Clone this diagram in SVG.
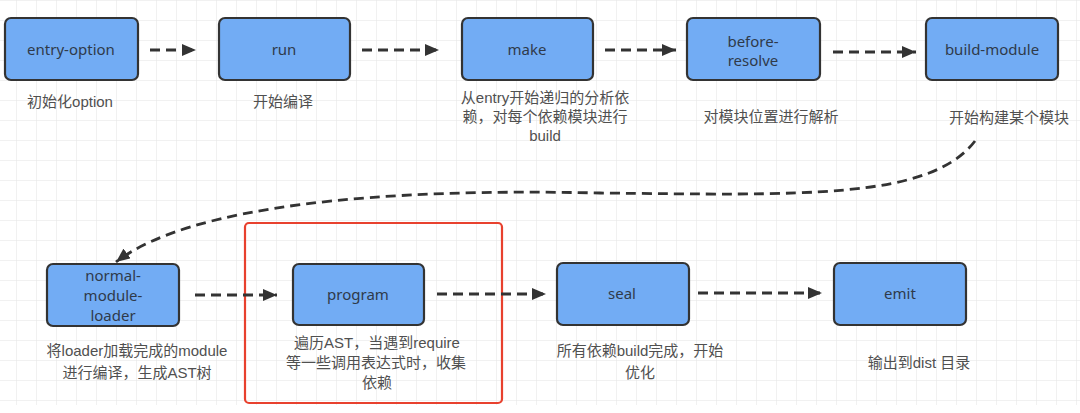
<svg xmlns="http://www.w3.org/2000/svg" width="1080" height="413" viewBox="0 0 1080 413">
<style>
.node rect{fill:#72acf4;stroke:#333;stroke-width:2.2}
.lbl{font-family:"Comic Sans MS","Noto Sans","Liberation Sans",sans-serif;font-size:15px;fill:#2f3a4a;text-anchor:middle;dominant-baseline:central}
.desc{font-family:"Liberation Sans","Noto Sans CJK SC",sans-serif;font-size:15px;fill:#505050;text-anchor:middle;dominant-baseline:central}
.edge{fill:none;stroke:#333;stroke-width:2.8;stroke-dasharray:10 6;marker-end:url(#arr)}
</style>
<defs>
<pattern id="grid" x="16" y="0" width="20" height="20" patternUnits="userSpaceOnUse">
<path d="M0,0 V20 M0,0 H20" fill="none" stroke="#e3e3e3" stroke-width="1"/>
</pattern>
<marker id="arr" markerUnits="userSpaceOnUse" markerWidth="15" markerHeight="12" refX="14" refY="6" orient="auto">
<path d="M0,0 L14,6 L0,12 z" fill="#333"/>
</marker>
</defs>
<rect width="1080" height="413" fill="#fff"/>
<rect width="1080" height="405" fill="url(#grid)"/>

<rect x="245" y="223" width="257" height="180" rx="4" fill="none" stroke="#e8412e" stroke-width="2.2"/>

<g id="connectors">
<line class="edge" x1="150" y1="50" x2="196" y2="50"/>
<line class="edge" x1="362" y1="50" x2="439" y2="50"/>
<line class="edge" x1="605" y1="50" x2="676" y2="50"/>
<line class="edge" x1="833" y1="52" x2="916" y2="52"/>
<path class="edge" d="M975,141 C930,200 800,195 600,193 C380,188 190,205 116,262"/>
<line class="edge" x1="195" y1="295" x2="277" y2="295"/>
<line class="edge" x1="437" y1="294" x2="546" y2="294"/>
<line class="edge" x1="698" y1="293" x2="822" y2="293"/>
</g>

<g id="entry-option" class="node">
<rect x="5" y="18" width="133" height="62" rx="6"/>
<text class="lbl" x="71" y="49">entry-option</text>
<text class="desc" x="70" y="101">初始化option</text>
</g>
<g id="run" class="node">
<rect x="219" y="18" width="131" height="62" rx="6"/>
<text class="lbl" x="284" y="49">run</text>
<text class="desc" x="283" y="101">开始编译</text>
</g>
<g id="make" class="node">
<rect x="462" y="18" width="131" height="62" rx="6"/>
<text class="lbl" x="527" y="49">make</text>
<text class="desc" x="545" y="97">从entry开始递归的分析依</text>
<text class="desc" x="545" y="116">赖，对每个依赖模块进行</text>
<text class="desc" x="545" y="135">build</text>
</g>
<g id="before-resolve" class="node">
<rect x="687" y="18" width="133" height="62" rx="6"/>
<text class="lbl" x="753" y="41">before-</text>
<text class="lbl" x="753" y="60">resolve</text>
<text class="desc" x="771" y="116">对模块位置进行解析</text>
</g>
<g id="build-module" class="node">
<rect x="926" y="18" width="132" height="62" rx="6"/>
<text class="lbl" x="992" y="49">build-module</text>
<text class="desc" x="1009" y="117">开始构建某个模块</text>
</g>
<g id="normal-module-loader" class="node">
<rect x="47" y="264" width="132" height="62" rx="6"/>
<text class="lbl" x="113" y="275">normal-</text>
<text class="lbl" x="113" y="295">module-</text>
<text class="lbl" x="113" y="315">loader</text>
<text class="desc" x="137" y="350">将loader加载完成的module</text>
<text class="desc" x="137" y="372">进行编译，生成AST树</text>
</g>
<g id="program" class="node">
<rect x="293" y="264" width="131" height="61" rx="6"/>
<text class="lbl" x="358" y="294">program</text>
<text class="desc" x="377" y="342">遍历AST，当遇到require</text>
<text class="desc" x="376" y="362">等一些调用表达式时，收集</text>
<text class="desc" x="377" y="382">依赖</text>
</g>
<g id="seal" class="node">
<rect x="557" y="263" width="132" height="62" rx="6"/>
<text class="lbl" x="622" y="293">seal</text>
<text class="desc" x="640" y="350">所有依赖build完成，开始</text>
<text class="desc" x="640" y="372">优化</text>
</g>
<g id="emit" class="node">
<rect x="834" y="263" width="132" height="62" rx="6"/>
<text class="lbl" x="900" y="293">emit</text>
<text class="desc" x="919" y="362">输出到dist 目录</text>
</g>
</svg>
